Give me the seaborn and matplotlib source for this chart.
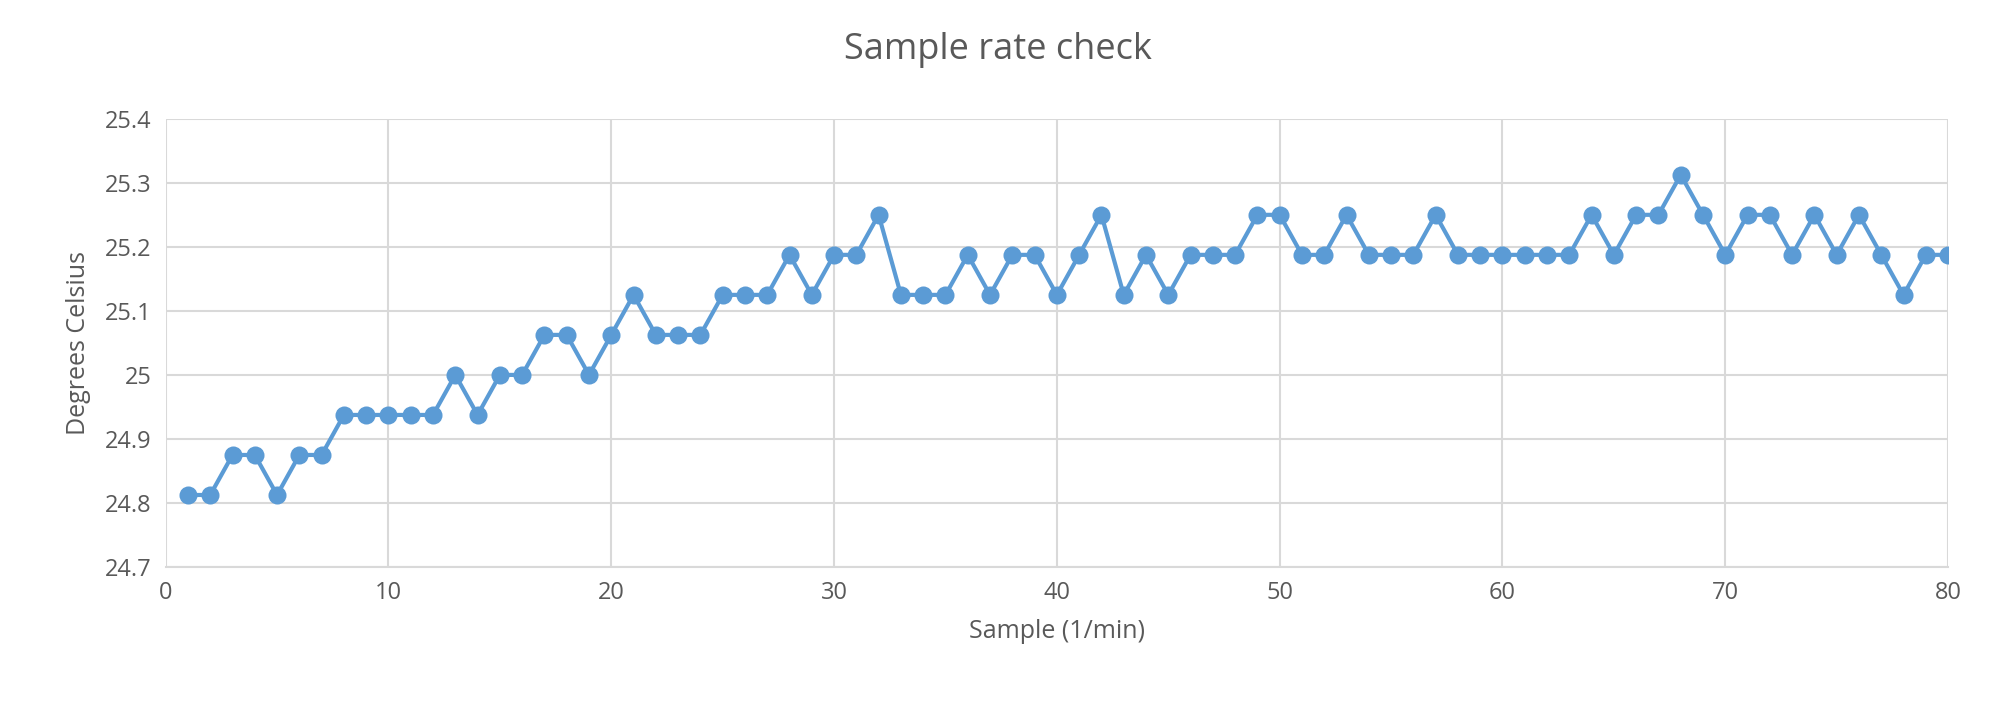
import matplotlib
matplotlib.use("Agg")
import matplotlib.pyplot as plt
import seaborn as sns
import pandas as pd

samples = list(range(1, 81))
temps = [24.8125, 24.8125, 24.875, 24.875, 24.8125, 24.875, 24.875, 24.9375, 24.9375, 24.9375,
         24.9375, 24.9375, 25.0, 24.9375, 25.0, 25.0, 25.0625, 25.0625, 25.0, 25.0625,
         25.125, 25.0625, 25.0625, 25.0625, 25.125, 25.125, 25.125, 25.1875, 25.125, 25.1875,
         25.1875, 25.25, 25.125, 25.125, 25.125, 25.1875, 25.125, 25.1875, 25.1875, 25.125,
         25.1875, 25.25, 25.125, 25.1875, 25.125, 25.1875, 25.1875, 25.1875, 25.25, 25.25,
         25.1875, 25.1875, 25.25, 25.1875, 25.1875, 25.1875, 25.25, 25.1875, 25.1875, 25.1875,
         25.1875, 25.1875, 25.1875, 25.25, 25.1875, 25.25, 25.25, 25.3125, 25.25, 25.1875,
         25.25, 25.25, 25.1875, 25.25, 25.1875, 25.25, 25.1875, 25.125, 25.1875, 25.1875]
df = pd.DataFrame({"sample": samples, "temp": temps})

sns.set_style("white")
plt.rcParams['font.family'] = ['Open Sans', 'DejaVu Sans']
fig, ax = plt.subplots(figsize=(19.96, 7.07), dpi=100)
fig.subplots_adjust(left=0.083, right=0.976, top=0.832, bottom=0.198)

sns.lineplot(data=df, x="sample", y="temp", color="#5b9bd5", linewidth=3,
             marker="o", markersize=13, markeredgewidth=0, ax=ax)

ax.set_xlim(0, 80)
ax.set_ylim(24.7, 25.4)
ax.set_xticks(range(0, 81, 10))
ax.set_yticks([24.7, 24.8, 24.9, 25.0, 25.1, 25.2, 25.3, 25.4])
ax.set_yticklabels(["24.7", "24.8", "24.9", "25", "25.1", "25.2", "25.3", "25.4"])
ax.grid(True, color="#d9d9d9", linewidth=1.5)
for s in ["top", "right", "left"]:
    ax.spines[s].set_visible(False)
ax.spines["bottom"].set_color("#d9d9d9")
ax.spines["bottom"].set_linewidth(1.5)
ax.tick_params(colors="#595959", labelsize=17, length=0, pad=10)
ax.set_xlabel("Sample (1/min)", fontsize=18, color="#595959", labelpad=10)
ax.set_ylabel("Degrees Celsius", fontsize=18, color="#595959", labelpad=10)
fig.suptitle("Sample rate check", fontsize=26, color="#595959", y=0.955)

fig.savefig("out.png", dpi=100)
